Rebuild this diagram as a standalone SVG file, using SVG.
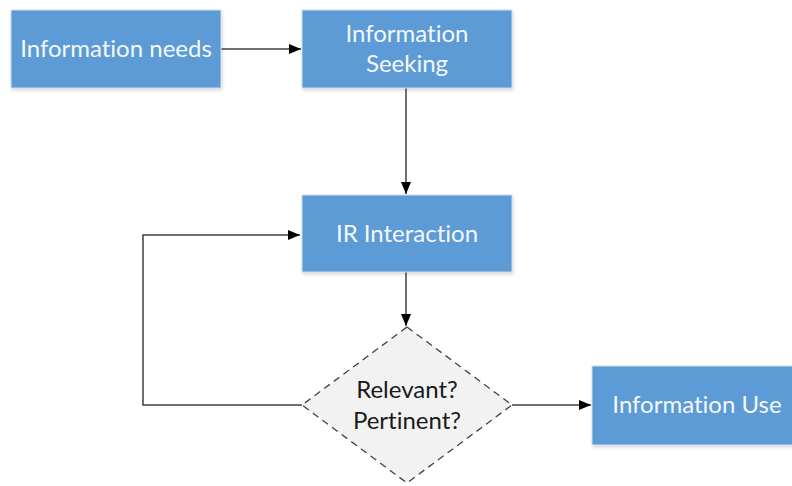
<svg xmlns="http://www.w3.org/2000/svg" width="792" height="486" viewBox="0 0 792 486">
<defs>
<style>
.box{fill:#5B9BD5;stroke:#D0DEEE;stroke-width:1}
.lbl{font-family:Lato,"Open Sans","Liberation Sans",sans-serif;font-size:24px;fill:#F4F8FC;text-anchor:middle;font-variant-ligatures:none}
.dlbl{font-family:Lato,"Open Sans","Liberation Sans",sans-serif;font-size:24px;fill:#1A1A1A;text-anchor:middle;font-variant-ligatures:none}
.con{fill:none;stroke:#404040;stroke-width:1.5}
</style>
<marker id="arr" viewBox="0 0 12 10" refX="12" refY="5" markerWidth="12" markerHeight="10" markerUnits="userSpaceOnUse" orient="auto">
<path d="M0,0 L12,5 L0,10 z" fill="#000"/>
</marker>
<filter id="sh" x="-5%" y="-5%" width="115%" height="120%">
<feDropShadow dx="1" dy="2" stdDeviation="1.5" flood-color="#000" flood-opacity="0.15"/>
</filter>
</defs>
<rect width="792" height="486" fill="#fff"/>
<g id="connectors">
<line class="con" x1="221" y1="49" x2="301" y2="49" marker-end="url(#arr)"/>
<line class="con" x1="406" y1="88" x2="406" y2="194" marker-end="url(#arr)"/>
<line class="con" x1="406" y1="272" x2="406" y2="326" marker-end="url(#arr)"/>
<polyline class="con" points="302,405 143,405 143,235 300,235" marker-end="url(#arr)"/>
<line class="con" x1="512" y1="405" x2="591" y2="405" marker-end="url(#arr)"/>
</g>
<g id="n1">
<rect class="box" x="11" y="10" width="210" height="78" filter="url(#sh)"/>
<text class="lbl" x="116" y="57">Information needs</text>
</g>
<g id="n2">
<rect class="box" x="302" y="10" width="210" height="78" filter="url(#sh)"/>
<text class="lbl" x="407" y="42">Information</text>
<text class="lbl" x="407" y="72">Seeking</text>
</g>
<g id="n3">
<rect class="box" x="302" y="195" width="210" height="77" filter="url(#sh)"/>
<text class="lbl" x="407" y="242">IR Interaction</text>
</g>
<g id="n4">
<polygon points="407,327 512,405 407,483 302,405" fill="#F2F2F2" stroke="#404040" stroke-width="1.3" stroke-dasharray="7,5"/>
<text class="dlbl" x="407" y="398">Relevant?</text>
<text class="dlbl" x="407" y="429">Pertinent?</text>
</g>
<g id="n5">
<rect class="box" x="592" y="366" width="210" height="79" filter="url(#sh)"/>
<text class="lbl" x="697" y="413">Information Use</text>
</g>
</svg>
